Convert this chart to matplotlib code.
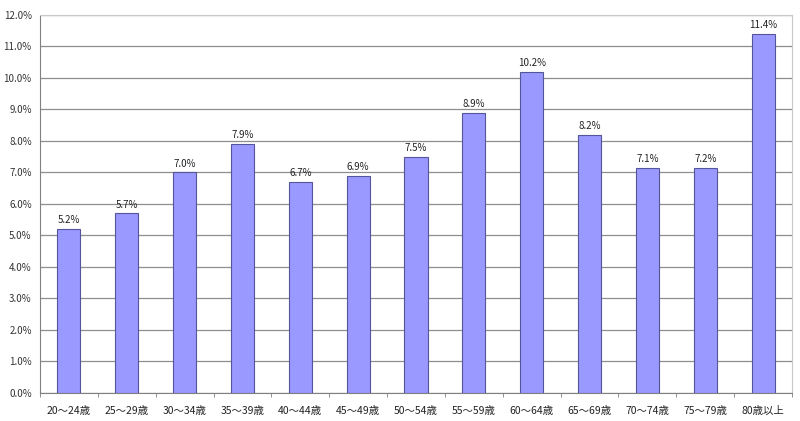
import matplotlib
matplotlib.use("Agg")
import matplotlib.pyplot as plt
import numpy as np
from matplotlib.ticker import FuncFormatter, FixedLocator

plt.rcParams['font.family'] = ['Noto Sans CJK JP', 'DejaVu Sans']

# age groups and share (%)
categories = ["20〜24歳", "25〜29歳", "30〜34歳", "35〜39歳", "40〜44歳", "45〜49歳",
              "50〜54歳", "55〜59歳", "60〜64歳", "65〜69歳", "70〜74歳", "75〜79歳", "80歳以上"]
values = [5.2, 5.7, 7.0, 7.9, 6.7, 6.9, 7.5, 8.9, 10.2, 8.2, 7.14, 7.15, 11.4]

fig = plt.figure(figsize=(8, 4.21), dpi=100)
ax = fig.add_axes([0.05, 0.0665, 0.94, 0.898])

x = np.arange(len(categories))
bars = ax.bar(x, values, width=0.4, color="#9999FF", edgecolor="#55559A", linewidth=0.8, zorder=3)

for b, v in zip(bars, values):
    ax.text(b.get_x() + b.get_width() / 2, v + 0.12, f"{v:.1f}%",
            ha="center", va="bottom", fontsize=7, color="#222222", zorder=4)

ax.set_xlim(-0.5, len(categories) - 0.5)
ax.set_ylim(0, 12)
ax.set_yticks(np.arange(0, 12.1, 1))
ax.yaxis.set_major_formatter(FuncFormatter(lambda v, p: f"{v:.1f}%"))
ax.yaxis.grid(True, color="#8E8E8E", linewidth=0.9, zorder=0)

ax.set_xticks(x)
ax.set_xticklabels(categories)
ax.xaxis.set_minor_locator(FixedLocator(np.arange(-0.5, len(categories), 1)))
ax.tick_params(axis="x", which="major", length=0, pad=9, labelsize=7.5, colors="#222222")
ax.tick_params(axis="x", which="minor", length=3, direction="out", color="#808080")
ax.tick_params(axis="y", length=0, pad=6, labelsize=7, colors="#333333")

for side in ["left", "bottom"]:
    ax.spines[side].set_color("#808080")
for side in ["top", "right"]:
    ax.spines[side].set_color("#C8C8C8")

fig.savefig("out.png", dpi=100)
